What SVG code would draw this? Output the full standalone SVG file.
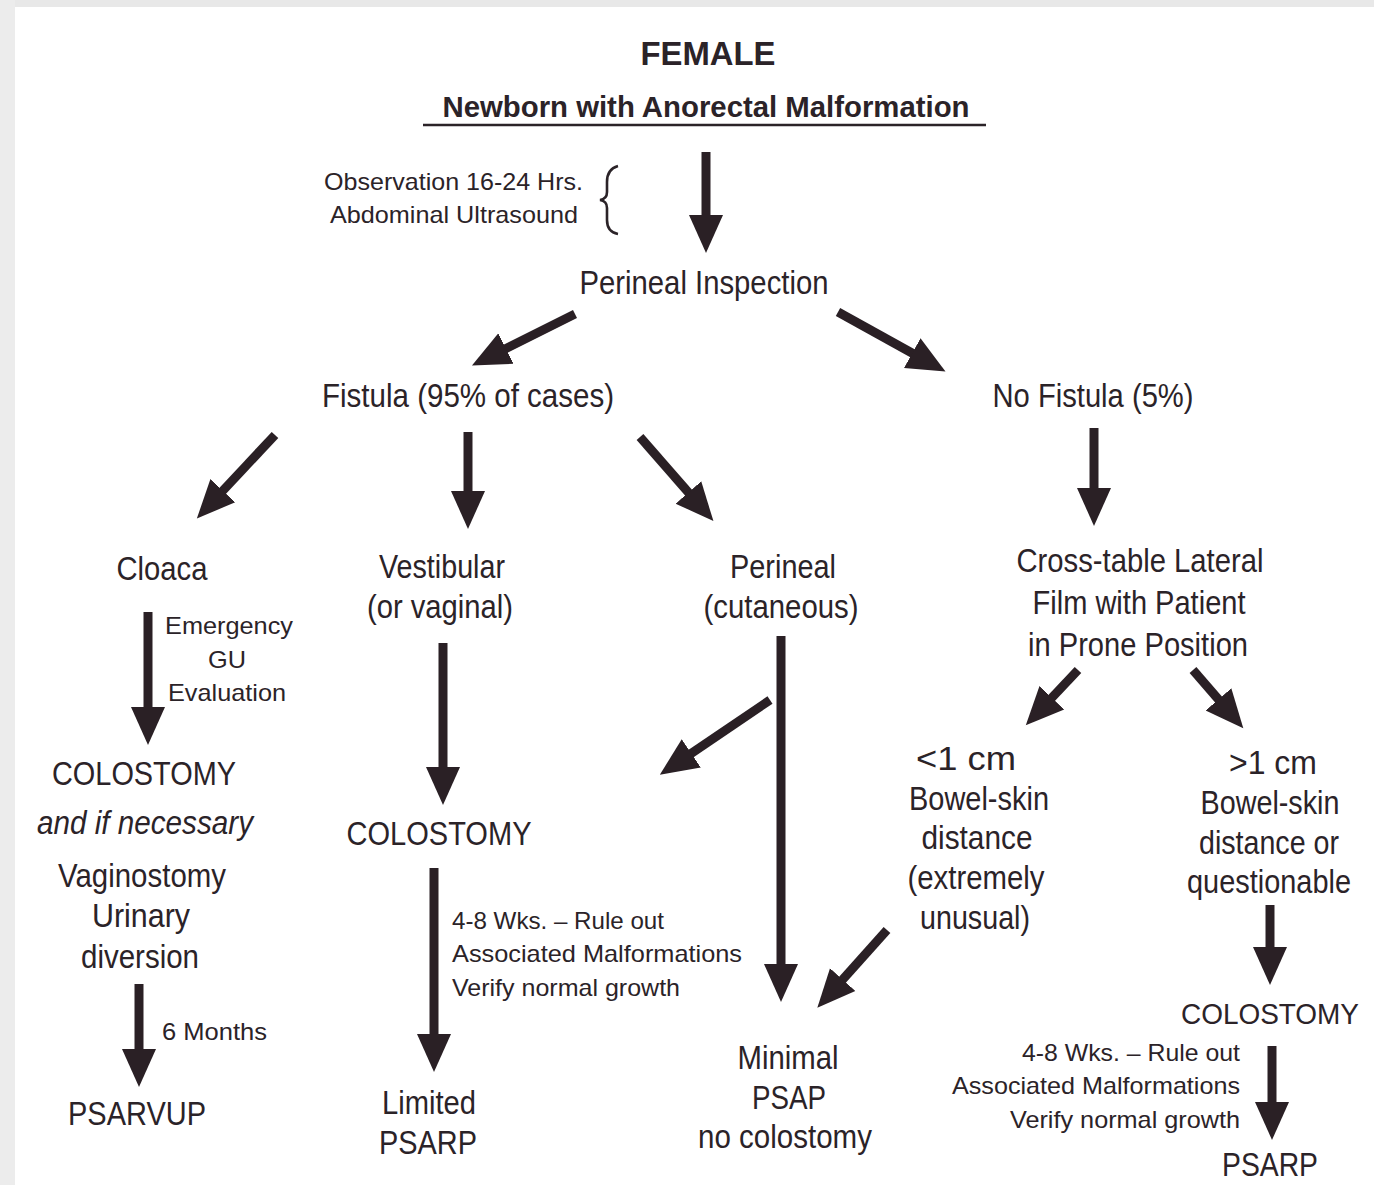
<svg xmlns="http://www.w3.org/2000/svg" width="1374" height="1185" viewBox="0 0 1374 1185">
<defs>
<style>
text{font-family:"Liberation Sans",Arial,Helvetica,sans-serif;fill:#2b2328}
.t{font-size:33px}
.s{font-size:24px}
.m{text-anchor:middle}
.e{text-anchor:end}
.b{font-weight:bold}
.i{font-style:italic}
.a{stroke:#2a2025;stroke-width:9;fill:none;marker-end:url(#ah)}
</style>
<marker id="ah" markerUnits="userSpaceOnUse" markerWidth="40" markerHeight="36" viewBox="0 -18 40 36" refX="10" refY="0" orient="auto">
<path d="M0,-17 L38,0 L0,17 Z" fill="#2a2025"/>
</marker>
</defs>
<rect x="0" y="0" width="1374" height="1185" fill="#ffffff"/>
<rect x="0" y="0" width="1374" height="7" fill="#e8e8e8"/>
<rect x="0" y="0" width="15" height="1185" fill="#ececec"/>

<g id="title">
<text class="m b" x="708" y="65" font-size="34" textLength="135" lengthAdjust="spacingAndGlyphs">FEMALE</text>
<text class="m b" x="706" y="117" font-size="29" textLength="527" lengthAdjust="spacingAndGlyphs">Newborn with Anorectal Malformation</text>
<line x1="423" y1="125" x2="986" y2="125" stroke="#2b2328" stroke-width="2.5"/>
</g>

<g id="observation">
<text class="s e" x="583" y="190" textLength="259" lengthAdjust="spacingAndGlyphs">Observation 16-24 Hrs.</text>
<text class="s e" x="578" y="223" textLength="248" lengthAdjust="spacingAndGlyphs">Abdominal Ultrasound</text>
<path d="M618,166 Q607,169 607,182 L607,192 Q607,199 600,200 Q607,201 607,208 L607,220 Q607,232 618,234" fill="none" stroke="#2b2328" stroke-width="2.6"/>
</g>

<g id="perineal-inspection">
<text class="t m" x="704" y="294" textLength="249" lengthAdjust="spacingAndGlyphs">Perineal Inspection</text>
</g>
<g id="fistula">
<text class="t m" x="468" y="407" textLength="292" lengthAdjust="spacingAndGlyphs">Fistula (95% of cases)</text>
</g>
<g id="no-fistula">
<text class="t m" x="1093" y="407" textLength="201" lengthAdjust="spacingAndGlyphs">No Fistula (5%)</text>
</g>

<g id="cloaca">
<text class="t m" x="162" y="580" textLength="91" lengthAdjust="spacingAndGlyphs">Cloaca</text>
</g>
<g id="vestibular">
<text class="t m" x="442" y="578" textLength="126" lengthAdjust="spacingAndGlyphs">Vestibular</text>
<text class="t m" x="440" y="618" textLength="146" lengthAdjust="spacingAndGlyphs">(or vaginal)</text>
</g>
<g id="perineal">
<text class="t m" x="783" y="578" textLength="106" lengthAdjust="spacingAndGlyphs">Perineal</text>
<text class="t m" x="781" y="618" textLength="155" lengthAdjust="spacingAndGlyphs">(cutaneous)</text>
</g>
<g id="cross-table">
<text class="t m" x="1140" y="572" textLength="247" lengthAdjust="spacingAndGlyphs">Cross-table Lateral</text>
<text class="t m" x="1139" y="614" textLength="213" lengthAdjust="spacingAndGlyphs">Film with Patient</text>
<text class="t m" x="1138" y="656" textLength="220" lengthAdjust="spacingAndGlyphs">in Prone Position</text>
</g>

<g id="emergency-label">
<text class="s m" x="229" y="634" textLength="128" lengthAdjust="spacingAndGlyphs">Emergency</text>
<text class="s m" x="227" y="668" textLength="38" lengthAdjust="spacingAndGlyphs">GU</text>
<text class="s m" x="227" y="701" textLength="118" lengthAdjust="spacingAndGlyphs">Evaluation</text>
</g>

<g id="colostomy-cloaca">
<text class="t m" x="144" y="785" textLength="184" lengthAdjust="spacingAndGlyphs">COLOSTOMY</text>
<text class="t m i" x="145" y="834" textLength="216" lengthAdjust="spacingAndGlyphs">and if necessary</text>
<text class="t m" x="142" y="887" textLength="168" lengthAdjust="spacingAndGlyphs">Vaginostomy</text>
<text class="t m" x="141" y="927" textLength="98" lengthAdjust="spacingAndGlyphs">Urinary</text>
<text class="t m" x="140" y="968" textLength="118" lengthAdjust="spacingAndGlyphs">diversion</text>
</g>
<g id="six-months-label">
<text class="s" x="162" y="1040" textLength="105" lengthAdjust="spacingAndGlyphs">6 Months</text>
</g>
<g id="psarvup">
<text class="t m" x="137" y="1125" textLength="138" lengthAdjust="spacingAndGlyphs">PSARVUP</text>
</g>

<g id="colostomy-vestibular">
<text class="t m" x="439" y="845" textLength="185" lengthAdjust="spacingAndGlyphs">COLOSTOMY</text>
</g>
<g id="wks-label-mid">
<text class="s" x="452" y="929" textLength="212" lengthAdjust="spacingAndGlyphs">4-8 Wks. – Rule out</text>
<text class="s" x="452" y="962" textLength="290" lengthAdjust="spacingAndGlyphs">Associated Malformations</text>
<text class="s" x="452" y="996" textLength="228" lengthAdjust="spacingAndGlyphs">Verify normal growth</text>
</g>
<g id="limited-psarp">
<text class="t m" x="429" y="1114" textLength="94" lengthAdjust="spacingAndGlyphs">Limited</text>
<text class="t m" x="428" y="1154" textLength="98" lengthAdjust="spacingAndGlyphs">PSARP</text>
</g>

<g id="minimal-psap">
<text class="t m" x="788" y="1069" textLength="101" lengthAdjust="spacingAndGlyphs">Minimal</text>
<text class="t m" x="789" y="1109" textLength="74" lengthAdjust="spacingAndGlyphs">PSAP</text>
<text class="t m" x="785" y="1148" textLength="174" lengthAdjust="spacingAndGlyphs">no colostomy</text>
</g>

<g id="less-1cm">
<text class="t m" x="966" y="770" textLength="100" lengthAdjust="spacingAndGlyphs">&lt;1 cm</text>
<text class="t m" x="979" y="810" textLength="140" lengthAdjust="spacingAndGlyphs">Bowel-skin</text>
<text class="t m" x="977" y="849" textLength="111" lengthAdjust="spacingAndGlyphs">distance</text>
<text class="t m" x="976" y="889" textLength="137" lengthAdjust="spacingAndGlyphs">(extremely</text>
<text class="t m" x="975" y="929" textLength="110" lengthAdjust="spacingAndGlyphs">unusual)</text>
</g>

<g id="more-1cm">
<text class="t m" x="1273" y="774" textLength="88" lengthAdjust="spacingAndGlyphs">&gt;1 cm</text>
<text class="t m" x="1270" y="814" textLength="139" lengthAdjust="spacingAndGlyphs">Bowel-skin</text>
<text class="t m" x="1269" y="854" textLength="140" lengthAdjust="spacingAndGlyphs">distance or</text>
<text class="t m" x="1269" y="893" textLength="164" lengthAdjust="spacingAndGlyphs">questionable</text>
</g>

<g id="colostomy-right">
<text class="m" x="1270" y="1024" font-size="30" textLength="178" lengthAdjust="spacingAndGlyphs">COLOSTOMY</text>
</g>
<g id="wks-label-right">
<text class="s e" x="1240" y="1061" textLength="218" lengthAdjust="spacingAndGlyphs">4-8 Wks. – Rule out</text>
<text class="s e" x="1240" y="1094" textLength="288" lengthAdjust="spacingAndGlyphs">Associated Malformations</text>
<text class="s e" x="1240" y="1128" textLength="230" lengthAdjust="spacingAndGlyphs">Verify normal growth</text>
</g>
<g id="psarp-right">
<text class="t m" x="1270" y="1176" textLength="96" lengthAdjust="spacingAndGlyphs">PSARP</text>
</g>

<g id="connectors">
<line class="a" x1="706" y1="152" x2="706" y2="225"/>
<line class="a" x1="575" y1="314" x2="497" y2="353"/>
<line class="a" x1="838" y1="312" x2="921" y2="358"/>
<line class="a" x1="275" y1="435" x2="216" y2="498"/>
<line class="a" x1="468" y1="432" x2="468" y2="501"/>
<line class="a" x1="640" y1="437" x2="695" y2="500"/>
<line class="a" x1="1094" y1="428" x2="1094" y2="498"/>
<line class="a" x1="148" y1="612" x2="148" y2="717"/>
<line class="a" x1="443" y1="643" x2="443" y2="777"/>
<line class="a" x1="781" y1="636" x2="781" y2="974"/>
<line class="a" x1="770" y1="700" x2="683" y2="759"/>
<line class="a" x1="1078" y1="670" x2="1045" y2="705"/>
<line class="a" x1="1193" y1="670" x2="1225" y2="707"/>
<line class="a" x1="887" y1="930" x2="836" y2="987"/>
<line class="a" x1="139" y1="984" x2="139" y2="1059"/>
<line class="a" x1="434" y1="868" x2="434" y2="1044"/>
<line class="a" x1="1270" y1="905" x2="1270" y2="957"/>
<line class="a" x1="1272" y1="1046" x2="1272" y2="1112"/>
</g>
</svg>
